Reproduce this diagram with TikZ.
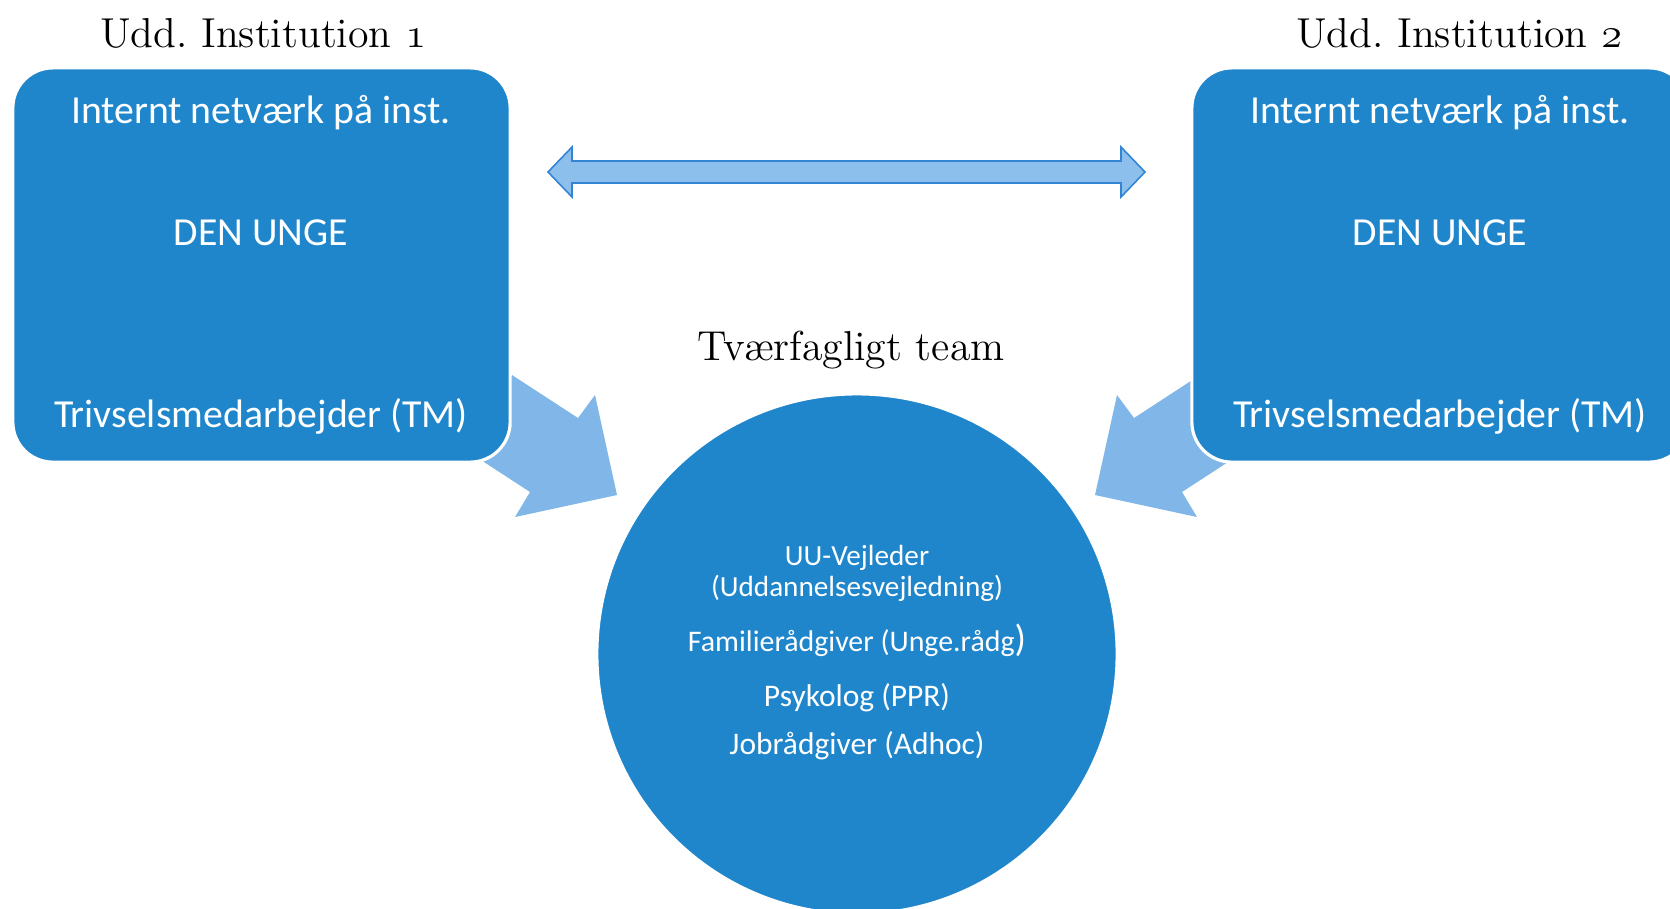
\documentclass[tikz,border=0pt]{standalone}
\usepackage{fontspec}
\newfontfamily\boxfont{Carlito}
\usetikzlibrary{positioning}

\definecolor{boxblue}{RGB}{31,134,204}
\definecolor{arrowblue}{RGB}{128,183,232}
\definecolor{linkfill}{RGB}{140,191,236}
\definecolor{linkline}{RGB}{52,132,212}

\tikzset{
	inst/.style={rectangle, rounded corners=0.4cm, fill=boxblue, draw=white, line width=0.9pt, minimum width=4.97cm, minimum height=3.94cm, inner sep=0pt},
	team/.style={circle, fill=boxblue, draw=white, line width=0.9pt, minimum size=5.2cm, inner sep=0pt},
	head/.style={anchor=base, inner sep=0pt, font=\fontsize{11.9}{14}\selectfont},
	boxtext/.style={anchor=base, inner sep=0pt, text=white, font=\boxfont\fontsize{11.3}{13}\selectfont},
	teamtext/.style={anchor=base, inner sep=0pt, text=white, font=\boxfont\fontsize{8.3}{10}\selectfont},
	bigarrow/.style={fill=arrowblue},
	link/.style={fill=linkfill, draw=linkline, line width=0.45pt, line join=miter}
}

\begin{document}
\begin{tikzpicture}[x=0.01cm, y=-0.01cm]
	\useasboundingbox (0,0) rectangle (1670,908);
	\clip (0,0) rectangle (1670,908);
	% arrows towards the team
	\fill[bigarrow] (512,375) -- (578,418) -- (595,395) -- (617,495) -- (515,517) -- (530,492) -- (464,449) -- cycle;
	\fill[bigarrow] (1200,375) -- (1134,418) -- (1117,395) -- (1095,495) -- (1197,517) -- (1182,492) -- (1248,449) -- cycle;
	% link between the institutions
	\draw[link] (548,172) -- (572,147) -- (572,161) -- (1121,161) -- (1121,147) -- (1145,172) -- (1121,197) -- (1121,183) -- (572,183) -- (572,197) -- cycle;

	\node[inst] (inst1) at (261.5,265) {};
	\node[inst] (inst2) at (1440.5,265) {};
	\node[team] (team) at (857,654) {};

	\node[head] (t1) at (263,47) {Udd.\ Institution $\mathnormal{1}$};
	\node[head] (t2) at (1459,47) {Udd.\ Institution $\mathnormal{2}$};
	\node[head] (tt) at (851,360) {Tværfagligt team};

	\node[boxtext] (net1) at (261,123) {Internt netværk på inst.};
	\node[boxtext] (ung1) at (261,245) {DEN UNGE};
	\node[boxtext] (tm1) at (261,427) {Trivselsmedarbejder (TM)};
	\node[boxtext] (net2) at (1440,123) {Internt netværk på inst.};
	\node[boxtext] (ung2) at (1440,245) {DEN UNGE};
	\node[boxtext] (tm2) at (1440,427) {Trivselsmedarbejder (TM)};

	\node[teamtext] (uu) at (857,565) {UU-Vejleder};
	\node[teamtext] (udd) at (857,596) {(Uddannelsesvejledning)};
	\node[teamtext, font=\boxfont\fontsize{8.5}{10}\selectfont] (fam) at (857,651) {Familierådgiver (Unge.rådg{\fontsize{10.7}{12}\selectfont)}};
	\node[teamtext, font=\boxfont\fontsize{8.95}{11}\selectfont] (psy) at (857,706) {Psykolog (PPR)};
	\node[teamtext, font=\boxfont\fontsize{8.95}{11}\selectfont] (job) at (857,754) {Jobrådgiver (Adhoc)};
\end{tikzpicture}
\end{document}
